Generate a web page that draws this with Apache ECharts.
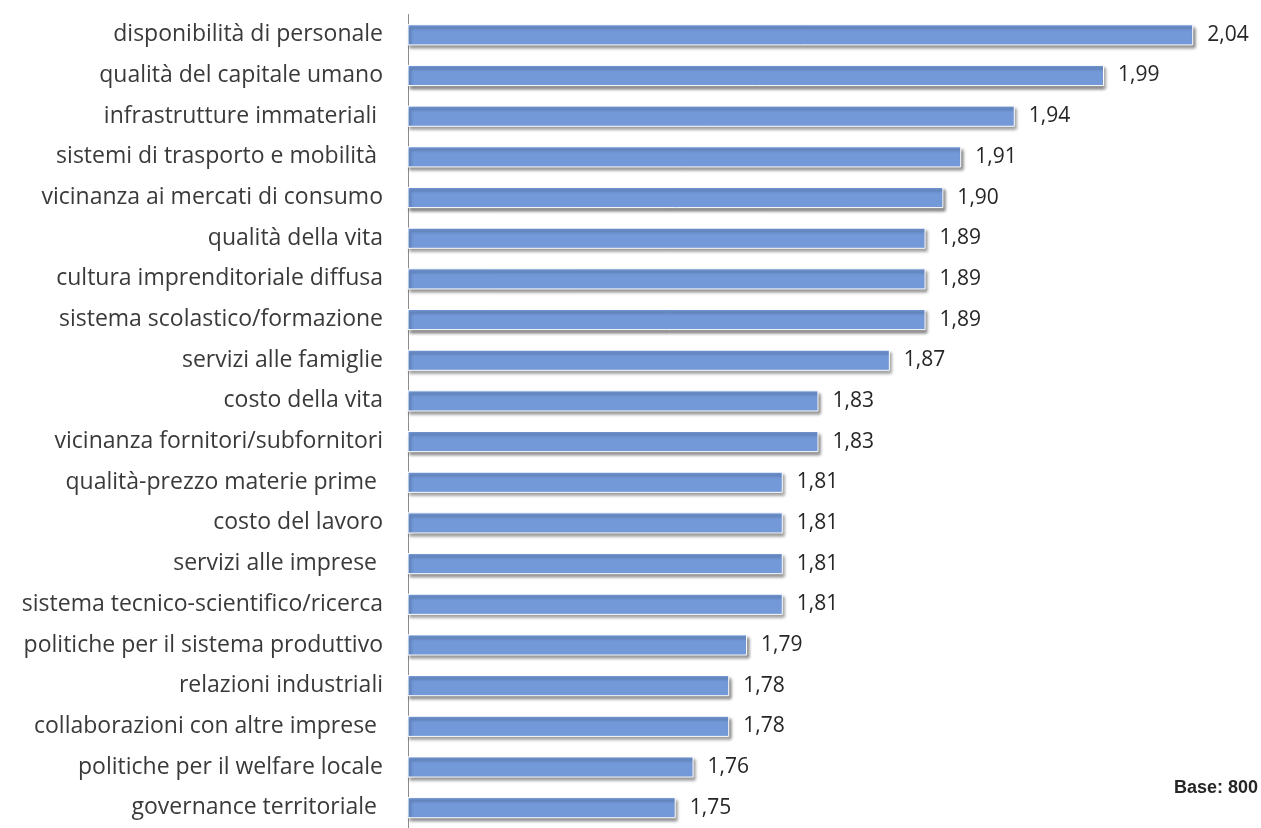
<!DOCTYPE html>
<html>
<head>
<meta charset="utf-8">
<script src="https://cdn.jsdelivr.net/npm/echarts@6/dist/echarts.min.js"></script>
<style>
  html, body { margin: 0; padding: 0; background: #fff; }
  #chart { width: 1261px; height: 828px; }
</style>
</head>
<body>
<div id="chart"></div>
<script>
// Fattori di localizzazione: punteggio medio
const categories = [
  'disponibilità di personale',
  'qualità del capitale umano',
  'infrastrutture immateriali ',
  'sistemi di trasporto e mobilità ',
  'vicinanza ai mercati di consumo',
  'qualità della vita',
  'cultura imprenditoriale diffusa',
  'sistema scolastico/formazione',
  'servizi alle famiglie',
  'costo della vita',
  'vicinanza fornitori/subfornitori',
  'qualità-prezzo materie prime ',
  'costo del lavoro',
  'servizi alle imprese ',
  'sistema tecnico-scientifico/ricerca',
  'politiche per il sistema produttivo',
  'relazioni industriali',
  'collaborazioni con altre imprese ',
  'politiche per il welfare locale',
  'governance territoriale '
];

const values = [
  2.04, 1.99, 1.94, 1.91, 1.90, 1.89, 1.89, 1.89, 1.87, 1.83,
  1.83, 1.81, 1.81, 1.81, 1.81, 1.79, 1.78, 1.78, 1.76, 1.75
];

const baseNote = 'Base: 800';

const chart = echarts.init(document.getElementById('chart'), null, { renderer: 'canvas' });

chart.setOption({
  backgroundColor: '#ffffff',
  animation: false,
  grid: { left: 408, right: 8, top: 14.5, bottom: -7.5, containLabel: false },
  xAxis: {
    type: 'value',
    min: 1.6,
    max: 2.0735,
    show: false
  },
  yAxis: {
    type: 'category',
    data: categories,
    inverse: true,
    axisLine: { show: true, lineStyle: { color: '#8c8c8c', width: 1 } },
    axisTick: { show: false },
    axisLabel: {
      color: '#3a3a3a',
      fontFamily: 'Open Sans',
      fontSize: 23,
      margin: 25
    }
  },
  series: [{
    type: 'bar',
    data: values,
    barCategoryGap: '48%',
    itemStyle: {
      color: '#7399d9',
      borderColor: '#ffffff',
      borderWidth: 1,
      shadowColor: 'rgba(0,0,0,0.45)',
      shadowBlur: 3,
      shadowOffsetX: 2,
      shadowOffsetY: 3
    },
    label: {
      show: true,
      position: 'right',
      distance: 14,
      color: '#262626',
      fontFamily: 'Open Sans',
      fontSize: 21,
      formatter: p => p.value.toFixed(2).replace('.', ',')
    }
  }],
  graphic: [{
    type: 'text',
    x: 1258,
    y: 788,
    style: {
      text: baseNote,
      fill: '#262626',
      align: 'right',
      verticalAlign: 'middle',
      font: 'bold 18px "Liberation Sans"'
    }
  }]
});
</script>
</body>
</html>
